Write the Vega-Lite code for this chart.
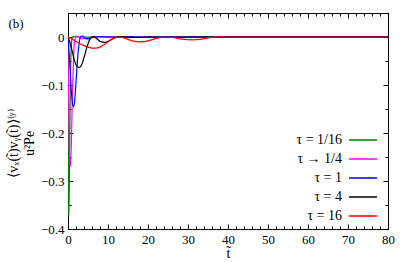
{
  "$schema": "https://vega.github.io/schema/vega-lite/v6.json",
  "autosize": "none",
  "width": 320,
  "height": 216,
  "padding": {"left": 68, "top": 13, "right": 19, "bottom": 33},
  "background": "white",
  "config": {
    "font": "serif",
    "view": {"stroke": "black", "strokeWidth": 1},
    "legend": {"labelFont": "serif"},
    "axis": {"grid": false, "domainColor": "black", "tickColor": "black", "labelColor": "black", "titleColor": "black", "labelFont": "serif", "titleFont": "serif", "labelFontSize": 13, "titleFontWeight": "normal"}
  },
  "title": {"text": "(b)", "anchor": "start", "frame": "bounds", "fontSize": 13, "fontWeight": "normal", "font": "serif", "baseline": "top", "offset": 0, "dy": 18, "dx": 2},
  "data": {"values": [
    {"t":0,"v":0,"s":"τ = 1/16"},{"t":0.05,"v":-0.2,"s":"τ = 1/16"},{"t":0.1,"v":-0.33,"s":"τ = 1/16"},{"t":0.2,"v":-0.373,"s":"τ = 1/16"},{"t":0.3,"v":-0.33,"s":"τ = 1/16"},{"t":0.45,"v":-0.2,"s":"τ = 1/16"},{"t":0.6,"v":-0.09,"s":"τ = 1/16"},{"t":0.8,"v":-0.025,"s":"τ = 1/16"},{"t":1.0,"v":-0.003,"s":"τ = 1/16"},{"t":1.3,"v":0.001,"s":"τ = 1/16"},{"t":2,"v":0,"s":"τ = 1/16"},{"t":80,"v":0,"s":"τ = 1/16"},
    {"t":0,"v":0,"s":"τ → 1/4"},{"t":0.15,"v":-0.12,"s":"τ → 1/4"},{"t":0.35,"v":-0.24,"s":"τ → 1/4"},{"t":0.6,"v":-0.27,"s":"τ → 1/4"},{"t":0.85,"v":-0.22,"s":"τ → 1/4"},{"t":1.1,"v":-0.12,"s":"τ → 1/4"},{"t":1.4,"v":-0.04,"s":"τ → 1/4"},{"t":1.7,"v":-0.006,"s":"τ → 1/4"},{"t":2.1,"v":0.002,"s":"τ → 1/4"},{"t":2.7,"v":0,"s":"τ → 1/4"},{"t":3.5,"v":-0.004,"s":"τ → 1/4"},{"t":4.5,"v":-0.002,"s":"τ → 1/4"},{"t":6,"v":0,"s":"τ → 1/4"},{"t":80,"v":0,"s":"τ → 1/4"},
    {"t":0,"v":0,"s":"τ = 1"},{"t":0.3,"v":-0.035,"s":"τ = 1"},{"t":0.6,"v":-0.08,"s":"τ = 1"},{"t":0.9,"v":-0.12,"s":"τ = 1"},{"t":1.2,"v":-0.142,"s":"τ = 1"},{"t":1.45,"v":-0.145,"s":"τ = 1"},{"t":1.7,"v":-0.13,"s":"τ = 1"},{"t":2.0,"v":-0.095,"s":"τ = 1"},{"t":2.4,"v":-0.045,"s":"τ = 1"},{"t":2.8,"v":-0.012,"s":"τ = 1"},{"t":3.2,"v":0.001,"s":"τ = 1"},{"t":3.7,"v":0.002,"s":"τ = 1"},{"t":4.5,"v":-0.004,"s":"τ = 1"},{"t":5.5,"v":-0.003,"s":"τ = 1"},{"t":6.5,"v":0,"s":"τ = 1"},{"t":8,"v":0.001,"s":"τ = 1"},{"t":10,"v":0,"s":"τ = 1"},{"t":80,"v":0,"s":"τ = 1"},
    {"t":0,"v":0,"s":"τ = 4"},{"t":0.5,"v":-0.012,"s":"τ = 4"},{"t":1,"v":-0.028,"s":"τ = 4"},{"t":1.5,"v":-0.045,"s":"τ = 4"},{"t":2,"v":-0.058,"s":"τ = 4"},{"t":2.7,"v":-0.064,"s":"τ = 4"},{"t":3.3,"v":-0.06,"s":"τ = 4"},{"t":4,"v":-0.043,"s":"τ = 4"},{"t":4.7,"v":-0.022,"s":"τ = 4"},{"t":5.4,"v":-0.006,"s":"τ = 4"},{"t":6.2,"v":0.001,"s":"τ = 4"},{"t":7,"v":-0.002,"s":"τ = 4"},{"t":8,"v":-0.009,"s":"τ = 4"},{"t":9.2,"v":-0.011,"s":"τ = 4"},{"t":10.5,"v":-0.007,"s":"τ = 4"},{"t":12,"v":-0.001,"s":"τ = 4"},{"t":13.5,"v":0.001,"s":"τ = 4"},{"t":15,"v":0,"s":"τ = 4"},{"t":17,"v":-0.001,"s":"τ = 4"},{"t":20,"v":0,"s":"τ = 4"},{"t":80,"v":0,"s":"τ = 4"},
    {"t":0,"v":0,"s":"τ = 16"},{"t":1,"v":-0.004,"s":"τ = 16"},{"t":2,"v":-0.009,"s":"τ = 16"},{"t":3,"v":-0.014,"s":"τ = 16"},{"t":4,"v":-0.018,"s":"τ = 16"},{"t":5,"v":-0.021,"s":"τ = 16"},{"t":6,"v":-0.023,"s":"τ = 16"},{"t":7,"v":-0.023,"s":"τ = 16"},{"t":8,"v":-0.021,"s":"τ = 16"},{"t":9,"v":-0.016,"s":"τ = 16"},{"t":10,"v":-0.01,"s":"τ = 16"},{"t":11,"v":-0.004,"s":"τ = 16"},{"t":12,"v":-0.001,"s":"τ = 16"},{"t":13,"v":0,"s":"τ = 16"},{"t":14,"v":-0.002,"s":"τ = 16"},{"t":15,"v":-0.005,"s":"τ = 16"},{"t":16,"v":-0.008,"s":"τ = 16"},{"t":18,"v":-0.01,"s":"τ = 16"},{"t":20,"v":-0.008,"s":"τ = 16"},{"t":22,"v":-0.003,"s":"τ = 16"},{"t":24,"v":0,"s":"τ = 16"},{"t":26,"v":-0.001,"s":"τ = 16"},{"t":28,"v":-0.004,"s":"τ = 16"},{"t":31,"v":-0.006,"s":"τ = 16"},{"t":33,"v":-0.005,"s":"τ = 16"},{"t":35,"v":-0.002,"s":"τ = 16"},{"t":37,"v":0,"s":"τ = 16"},{"t":42,"v":0,"s":"τ = 16"},{"t":80,"v":0,"s":"τ = 16"}
  ]},
  "layer": [
    {
      "mark": {"type": "line", "strokeWidth": 1.2, "interpolate": "monotone", "clip": true},
      "encoding": {
        "x": {"field": "t", "type": "quantitative", "scale": {"domain": [0, 80], "nice": false},
          "axis": {"title": "t̃", "titleFontSize": 14, "titlePadding": 0, "values": [0,2,4,6,8,10,12,14,16,18,20,22,24,26,28,30,32,34,36,38,40,42,44,46,48,50,52,54,56,58,60,62,64,66,68,70,72,74,76,78,80],
            "labelExpr": "datum.value % 10 === 0 ? datum.label : ''", "tickSize": {"condition": {"test": "datum.value % 10 === 0", "value": -5}, "value": -3}, "labelPadding": 9, "labelFlush": false}},
        "y": {"field": "v", "type": "quantitative", "scale": {"domain": [-0.4, 0.05], "nice": false, "zero": false},
          "axis": {"title": ["⟨vₓ(t̃)vᵧ(t̃)⟩⁽ʸ⁾", "u²Pe"], "titleFontSize": 14, "titleLineHeight": 16, "titleY": 130,
            "values": [-0.4,-0.35,-0.3,-0.25,-0.2,-0.15,-0.1,-0.05,0,0.05],
            "labelExpr": "abs(round(datum.value*20)) % 2 === 0 ? (datum.value === 0 ? '0' : format(datum.value, '.1f')) : ''",
            "tickSize": {"condition": {"test": "abs(round(datum.value*20)) % 2 === 0", "value": -5}, "value": -3}, "labelPadding": 9}},
        "color": {"field": "s", "type": "nominal", "sort": ["τ = 1/16", "τ → 1/4", "τ = 1", "τ = 4", "τ = 16"],
          "scale": {"domain": ["τ = 1/16", "τ → 1/4", "τ = 1", "τ = 4", "τ = 16"], "range": ["#008000", "#ff00ff", "#0000ff", "#000000", "#ff0000"]},
          "legend": {"title": null, "orient": "none", "legendX": 287, "legendY": 119, "symbolType": "M-2,0H2", "symbolSize": 196, "symbolStrokeWidth": 1.5, "symbolFillColor": "transparent", "labelAlign": "right", "labelOffset": -29, "labelFontSize": 14, "labelFont": "serif", "labelColor": "black", "rowPadding": 4, "padding": 0}}
      }
    },
    {
      "mark": {"type": "line", "opacity": 0},
      "encoding": {
        "x": {"field": "t", "type": "quantitative", "axis": {"orient": "top", "title": null, "labels": false, "values": [0,2,4,6,8,10,12,14,16,18,20,22,24,26,28,30,32,34,36,38,40,42,44,46,48,50,52,54,56,58,60,62,64,66,68,70,72,74,76,78,80], "tickSize": {"condition": {"test": "datum.value % 10 === 0", "value": -5}, "value": -3}}},
        "y": {"field": "v", "type": "quantitative", "axis": {"orient": "right", "title": null, "labels": false, "values": [-0.4,-0.35,-0.3,-0.25,-0.2,-0.15,-0.1,-0.05,0,0.05], "tickSize": {"condition": {"test": "abs(round(datum.value*20)) % 2 === 0", "value": -5}, "value": -3}}},
        "detail": {"field": "s", "type": "nominal"}
      }
    }
  ],
  "resolve": {"axis": {"x": "independent", "y": "independent"}}
}
